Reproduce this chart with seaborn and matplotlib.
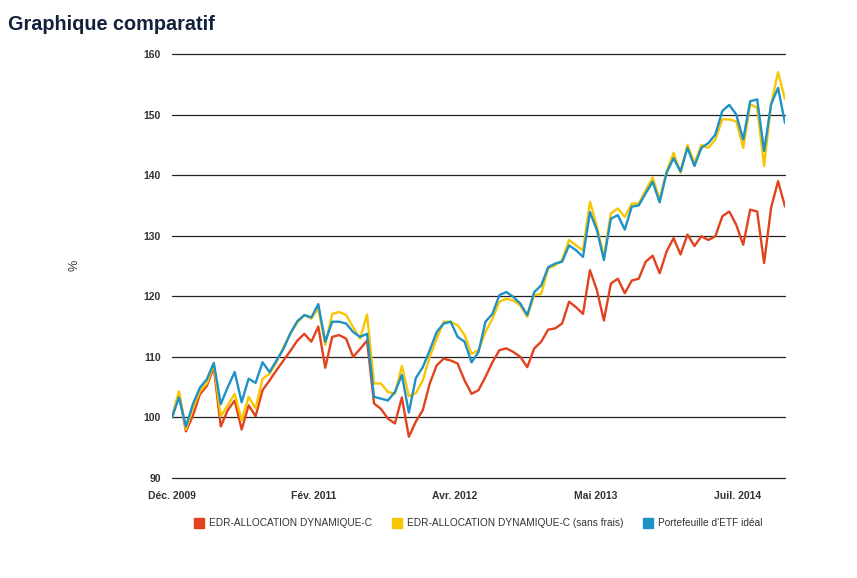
import numpy as np
import pandas as pd
import matplotlib
matplotlib.use('Agg')
import matplotlib.pyplot as plt
import seaborn as sns
from matplotlib.lines import Line2D

# series names (legend order)
names = ['EDR-ALLOCATION DYNAMIQUE-C',
         'EDR-ALLOCATION DYNAMIQUE-C (sans frais)',
         "Portefeuille d'ETF idéal"]
colors = ['#e2431e', '#f7c600', '#1e92c4']

start = '2009-12-01'
step = '21D'

# values, one every 3 weeks
edr = [100.0, 104.0, 97.7, 100.3, 103.8, 105.2, 108.3, 98.5, 101.2, 102.8,
       98.0, 102.0, 100.2, 104.5, 106.1, 107.8, 109.4, 111.0, 112.7, 113.8,
       112.5, 115.0, 108.2, 113.3, 113.6, 113.0, 110.0, 111.3, 112.7, 102.3,
       101.4, 99.8, 99.0, 103.3, 96.8, 99.3, 101.2, 105.6, 108.6, 109.7,
       109.4, 108.9, 106.1, 103.9, 104.5, 106.7, 109.1, 111.1, 111.4, 110.8,
       110.0, 108.3, 111.4, 112.5, 114.5, 114.7, 115.5, 119.1, 118.2, 117.1,
       124.3, 121.0, 116.0, 122.1, 122.9, 120.5, 122.6, 122.9, 125.7, 126.7,
       123.8, 127.4, 129.6, 126.9, 130.2, 128.3, 129.9, 129.3, 129.9, 133.2,
       134.0, 131.8, 128.5, 134.3, 134.0, 125.5, 134.6, 139.0, 134.8]

edr_sans_frais = [100.0, 104.3, 98.0, 101.5, 104.3, 105.6, 108.8, 100.2, 102.0, 103.9,
                  99.5, 103.4, 101.5, 106.4, 107.2, 109.1, 111.6, 113.9, 115.7, 116.9,
                  116.3, 118.0, 112.0, 117.1, 117.4, 116.9, 114.9, 113.0, 117.0, 105.6,
                  105.6, 104.2, 103.9, 108.5, 103.5, 104.0, 106.1, 110.0, 113.0, 115.8,
                  115.8, 115.2, 113.6, 110.5, 111.1, 114.1, 116.3, 119.1, 119.6, 119.3,
                  118.5, 116.6, 120.2, 120.4, 124.6, 125.1, 126.0, 129.3, 128.4, 127.6,
                  135.6, 131.5, 126.5, 133.7, 134.5, 133.1, 135.3, 135.3, 137.5, 139.6,
                  136.0, 140.6, 143.7, 140.4, 145.0, 142.0, 145.0, 144.5, 145.9, 149.2,
                  149.2, 148.9, 144.5, 151.7, 151.1, 141.5, 151.7, 157.0, 152.5]

etf = [100.0, 103.3, 98.5, 102.2, 104.9, 106.3, 109.0, 102.2, 105.0, 107.5,
       102.5, 106.4, 105.7, 109.1, 107.5, 109.4, 111.3, 113.9, 115.9, 116.9,
       116.5, 118.7, 112.5, 115.8, 115.8, 115.5, 114.1, 113.3, 113.8, 103.4,
       103.1, 102.8, 104.2, 107.0, 100.8, 106.5, 108.3, 111.1, 114.1, 115.5,
       115.8, 113.3, 112.5, 109.1, 110.8, 115.8, 117.1, 120.2, 120.7, 119.9,
       118.8, 116.9, 120.7, 121.8, 124.8, 125.4, 125.7, 128.4, 127.6, 126.5,
       133.9, 130.9, 126.0, 132.8, 133.4, 131.0, 134.8, 135.0, 137.0, 138.9,
       135.5, 140.4, 142.8, 140.6, 144.5, 141.5, 144.5, 145.3, 146.7, 150.6,
       151.6, 150.0, 145.9, 152.2, 152.5, 144.0, 151.7, 154.4, 148.6]

tick_labels = ['Déc. 2009', 'Fév. 2011', 'Avr. 2012', 'Mai 2013', 'Juil. 2014']

dates = pd.date_range(start, periods=len(etf), freq=step)
df = pd.DataFrame({'date': np.tile(dates, 3),
                   'valeur': edr + edr_sans_frais + etf,
                   'serie': np.repeat(names, len(etf))})

sns.set_style('white')
plt.rcParams['font.family'] = ['Liberation Sans', 'DejaVu Sans']

fig = plt.figure(figsize=(8.57, 5.78), dpi=100)
ax = fig.add_axes([0.2007, 0.173, 0.7153, 0.7336])

sns.lineplot(data=df, x='date', y='valeur', hue='serie', hue_order=names,
             palette=colors, linewidth=1.7, legend=False, ax=ax)

ax.set_ylim(90, 160)
ax.set_yticks(np.arange(90, 161, 10))
ax.set_xlim(dates[0], dates[-1])
ax.set_xticks(pd.date_range(start, periods=5, freq='426D'))
ax.set_xticklabels(tick_labels)
for s in ax.spines.values():
    s.set_visible(False)
ax.grid(axis='y', color='#222222', linewidth=0.9)
for gl in ax.get_ygridlines():
    gl.set_clip_on(False)
ax.set_axisbelow(True)
ax.tick_params(length=0, labelsize=7.5, labelcolor='#333333')
ax.tick_params(axis='y', pad=8)
ax.tick_params(axis='x', pad=9)
for lab in ax.get_xticklabels() + ax.get_yticklabels():
    lab.set_fontweight('bold')
ax.set_xlabel('')
ax.set_ylabel('')

fig.text(75 / 857, 1 - 265 / 578, '%', rotation=90, ha='center', va='center',
         fontsize=9, color='#333333')
fig.text(8 / 857, 1 - 25 / 578, 'Graphique comparatif', ha='left', va='center',
         fontsize=14.3, fontweight='bold', color='#14213d')

handles = [Line2D([], [], marker='s', linestyle='', markersize=7.5,
                  markerfacecolor=c, markeredgecolor=c) for c in colors]
fig.legend(handles, names, loc='center', bbox_to_anchor=(0.558, 0.095), ncol=3,
           frameon=False, fontsize=7.3, handletextpad=0.5, columnspacing=1.9,
           handlelength=1.0, labelcolor='#333333')

fig.savefig('out.png', dpi=100)
